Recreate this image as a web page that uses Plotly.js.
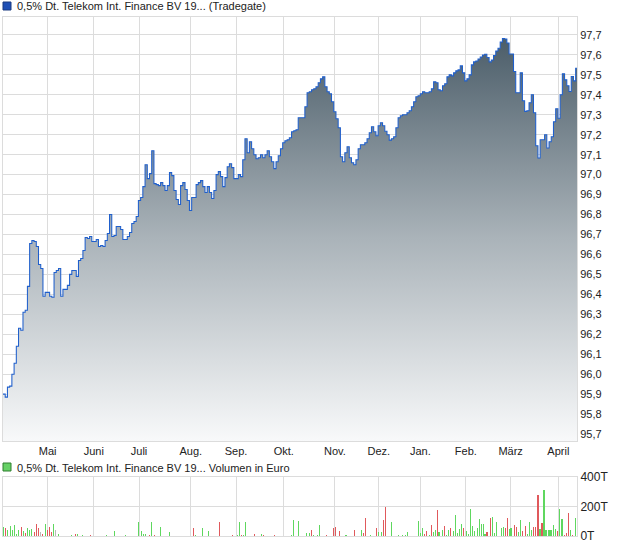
<!DOCTYPE html>
<html><head><meta charset="utf-8">
<script src="https://cdn.plot.ly/plotly-3.0.1.min.js"></script>
<style>html,body{margin:0;padding:0;background:#fff;} #chart{width:620px;height:546px;}</style>
</head><body><div id="chart"></div>
<script>
// Month labels and the trading-day index where each month starts
const monthLabels = ['Mai','Juni','Juli','Aug.','Sep.','Okt.','Nov.','Dez.','Jan.','Feb.','März','April'];
const monthStartDay = [20.1, 40.9, 61.3, 84.6, 105, 126.5, 149.5, 169.3, 188, 208.5, 228.7, 250.2];

// Daily closing prices (Tradegate), one per trading day
const prices = [
95.90,95.885,95.935,95.94,96.00,96.055,96.14,96.23,96.22,96.31,
96.32,96.44,96.655,96.67,96.665,96.64,96.55,96.53,96.39,96.41,
96.41,96.39,96.385,96.51,96.52,96.53,96.39,96.425,96.425,96.445,
96.50,96.52,96.52,96.49,96.57,96.58,96.62,96.685,96.68,96.69,
96.665,96.665,96.675,96.64,96.645,96.64,96.67,96.705,96.80,96.69,
96.695,96.74,96.74,96.725,96.675,96.675,96.69,96.71,96.755,96.765,
96.79,96.87,96.885,96.94,97.05,96.98,97.005,97.12,96.955,96.95,
96.945,96.96,96.945,96.92,96.945,97.01,96.995,96.92,96.875,96.85,
96.945,96.96,96.925,96.87,96.82,96.885,96.885,96.95,96.96,96.97,
96.94,96.91,96.94,96.91,96.88,96.92,97.00,97.015,96.99,96.94,
96.985,97.04,97.055,97.035,96.98,96.98,97.00,96.99,97.075,97.18,
97.11,97.165,97.13,97.10,97.08,97.085,97.10,97.085,97.10,97.12,
97.09,97.065,97.03,97.065,97.095,97.13,97.16,97.17,97.175,97.185,
97.215,97.22,97.225,97.285,97.285,97.285,97.34,97.41,97.415,97.425,
97.43,97.44,97.46,97.48,97.49,97.44,97.415,97.405,97.365,97.315,
97.28,97.235,97.09,97.065,97.11,97.14,97.085,97.06,97.05,97.075,
97.13,97.15,97.15,97.16,97.18,97.21,97.24,97.215,97.195,97.245,
97.26,97.245,97.217,97.20,97.173,97.18,97.19,97.235,97.285,97.295,
97.30,97.30,97.31,97.32,97.34,97.365,97.39,97.395,97.405,97.415,
97.41,97.41,97.415,97.43,97.465,97.46,97.425,97.42,97.445,97.455,
97.49,97.50,97.495,97.51,97.52,97.525,97.545,97.51,97.47,97.48,
97.50,97.55,97.565,97.57,97.58,97.59,97.60,97.603,97.587,97.565,
97.575,97.597,97.62,97.633,97.665,97.682,97.68,97.66,97.605,97.605,
97.517,97.41,97.41,97.51,97.37,97.317,97.32,97.36,97.40,97.31,
97.145,97.083,97.175,97.175,97.20,97.133,97.165,97.19,97.265,97.33,
97.283,97.40,97.505,97.475,97.445,97.417,97.492,97.47,97.533,97.545
];

// Volume bars: position on the trading-day axis, volume in thousand euro, direction
const volX = [
0.15,1.05,1.95,3.3,4.2,5.1,6.0,6.9,8.26,9.16,10.06,10.96,11.86,12.76,14.11,15.0,15.9,16.8,17.7,19.07,
19.97,20.87,21.77,22.67,23.57,24.92,30.8,32.6,33.5,35.7,39.3,46.5,50.2,55.1,61.1,62.3,63.2,64.1,65.9,66.8,
68.2,70.9,74.9,85.7,86.6,89.8,92.5,97.4,103.3,105.6,106.5,107.4,108.3,109.2,113.2,116.4,117.3,122.2,
129.9,130.8,133.1,136.6,138.0,138.9,139.8,141.6,142.5,145.6,148.8,149.7,151.5,154.6,158.3,161.4,162.3,163.2,165.5,
168.2,169.1,170.4,171.3,172.2,174.9,178.1,179.9,181.2,182.1,
187.1,188.0,188.9,189.8,190.7,192.0,192.9,193.9,194.7,195.6,196.5,197.9,198.8,199.7,200.6,201.5,202.9,203.8,204.7,205.6,
206.5,207.4,208.8,209.7,210.6,211.4,212.3,213.7,214.6,215.5,216.4,217.2,218.1,219.5,220.4,221.3,222.2,224.5,225.4,226.3,
227.2,228.1,228.9,230.3,231.2,232.1,233.0,233.9,235.3,236.2,237.1,238.0,238.9,239.8,241.1,242.0,242.9,243.8,244.7,246.0,
246.9,247.9,248.8,249.7,250.6,251.9,252.9,253.8,254.7,255.6,256.5,257.9,258.8
];
const volK = [
64,56,38,71,38,76,11,38,64,33,22,56,38,49,29,82,56,29,11,82,
42,64,29,82,42,11,9,16,11,9,4,9,36,9,96,36,16,16,4,96,
9,64,29,56,4,56,36,96,9,4,96,4,9,96,16,16,4,9,
9,109,102,22,22,42,9,9,76,9,56,64,36,4,42,42,22,122,4,
56,29,29,109,196,96,9,9,9,29,
102,22,56,16,36,9,76,29,42,176,29,42,69,9,42,56,36,142,22,49,
82,56,36,16,182,69,36,56,116,82,82,16,29,122,129,22,96,56,62,56,
122,49,56,76,62,29,109,36,69,16,96,42,62,62,276,49,89,309,42,42,
42,76,49,36,182,116,9,22,156,42,9,122,49
];
const volDir = [
'u','d','u','u','u','u','u','u','d','u','d','u','u','u','d','d','d','n','d','u',
'd','d','d','u','n','u','u','d','u','u','d','u','u','u','u','u','u','u','d','u',
'd','u','u','d','u','u','u','d','d','u','u','d','u','u','d','u','d','d',
'u','u','u','u','u','d','u','u','u','d','d','d','d','u','d','u','d','d','u',
'd','u','u','d','d','u','u','u','u','u',
'u','u','u','d','d','u','d','u','u','d','u','u','d','u','u','d','u','u','u','u',
'u','d','u','u','u','u','u','u','u','u','u','u','d','d','u','u','u','u','u','d',
'd','u','u','d','d','u','u','d','d','u','u','u','d','d','d','u','d','u','u','u',
'u','u','u','d','u','u','d','d','d','u','d','u','u'
];

const dirColor = {u:'#5fd75f', d:'#e0595c', n:'#b9b9b9'};
const days = prices.map((_, i) => i);

const W = 620, H = 546;
const px = v => v / W;
const py = v => 1 - v / H;

const grid = '#dcdcdc';
const font = {family: 'Liberation Sans, Arial, sans-serif', size: 11, color: '#222'};

const traces = [
  {
    type: 'scatter', mode: 'lines', x: days, y: prices,
    xaxis: 'x', yaxis: 'y',
    line: {color: '#1f5fcc', width: 1.05, shape: 'hv'},
    fill: 'tozeroy',
    fillgradient: {type: 'vertical', start: 95.665, stop: 97.7,
      colorscale: [[0, '#f8f9fa'], [0.5, '#aab3b9'], [1, '#4a5c68']]},
    hoverinfo: 'skip'
  },
  {
    type: 'bar', x: volX, y: volK.map(v => v * 1000),
    xaxis: 'x2', yaxis: 'y2', width: 0.6,
    marker: {color: volDir.map(d => dirColor[d]), line: {width: 0}},
    hoverinfo: 'skip'
  }
];

const xr = [0, 258.6];
const layout = {
  width: W, height: H,
  margin: {l: 0, r: 0, t: 0, b: 0},
  paper_bgcolor: '#fff', plot_bgcolor: '#fff',
  showlegend: false,
  separators: ',.',
  font: font,
  bargap: 0,
  xaxis: {
    domain: [px(3), px(577)], range: xr, anchor: 'y',
    tickvals: monthStartDay, ticktext: monthLabels,
    showgrid: true, gridcolor: grid, gridwidth: 1,
    showline: true, mirror: true, linecolor: grid, linewidth: 1,
    ticks: '', zeroline: false, tickfont: font, automargin: false
  },
  yaxis: {
    domain: [py(441), py(17)], range: [95.665, 97.79], anchor: 'x',
    side: 'right', tick0: 95.7, dtick: 0.1, tickformat: '.1f',
    showgrid: true, gridcolor: grid, gridwidth: 1,
    showline: true, mirror: true, linecolor: grid, linewidth: 1,
    ticks: '', zeroline: false, tickfont: font, automargin: false
  },
  xaxis2: {
    domain: [px(3), px(577)], range: xr, anchor: 'y2', matches: 'x',
    tickvals: monthStartDay, showticklabels: false,
    showgrid: true, gridcolor: grid, gridwidth: 1,
    showline: true, mirror: true, linecolor: grid, linewidth: 1,
    ticks: '', zeroline: false, automargin: false
  },
  yaxis2: {
    domain: [py(536), py(477)], range: [0, 400000], anchor: 'x2',
    side: 'right', tickvals: [0, 200000, 400000], ticktext: ['0T', '200T', '400T'],
    showgrid: true, gridcolor: grid, gridwidth: 1,
    showline: true, mirror: true, linecolor: grid, linewidth: 1,
    ticks: '', zeroline: false, tickfont: {family: font.family, size: 12, color: '#222'}, automargin: false
  },
  shapes: [
    {type: 'rect', xref: 'paper', yref: 'paper', x0: px(3), x1: px(11), y0: py(10), y1: py(2),
      fillcolor: '#1f4fb5', line: {color: '#1a3a80', width: 1}},
    {type: 'rect', xref: 'paper', yref: 'paper', x0: px(3), x1: px(11), y0: py(471), y1: py(463),
      fillcolor: '#66d166', line: {color: '#2f7f2f', width: 1}}
  ],
  annotations: [
    {xref: 'paper', yref: 'paper', x: px(15), y: py(6.5), xanchor: 'left', yanchor: 'middle',
      showarrow: false, text: '0,5% Dt. Telekom Int. Finance BV 19... (Tradegate)', font: font},
    {xref: 'paper', yref: 'paper', x: px(15), y: py(467.5), xanchor: 'left', yanchor: 'middle',
      showarrow: false, text: '0,5% Dt. Telekom Int. Finance BV 19... Volumen in Euro', font: font}
  ]
};

Plotly.newPlot('chart', traces, layout, {staticPlot: true, displayModeBar: false});
</script>
</body></html>
